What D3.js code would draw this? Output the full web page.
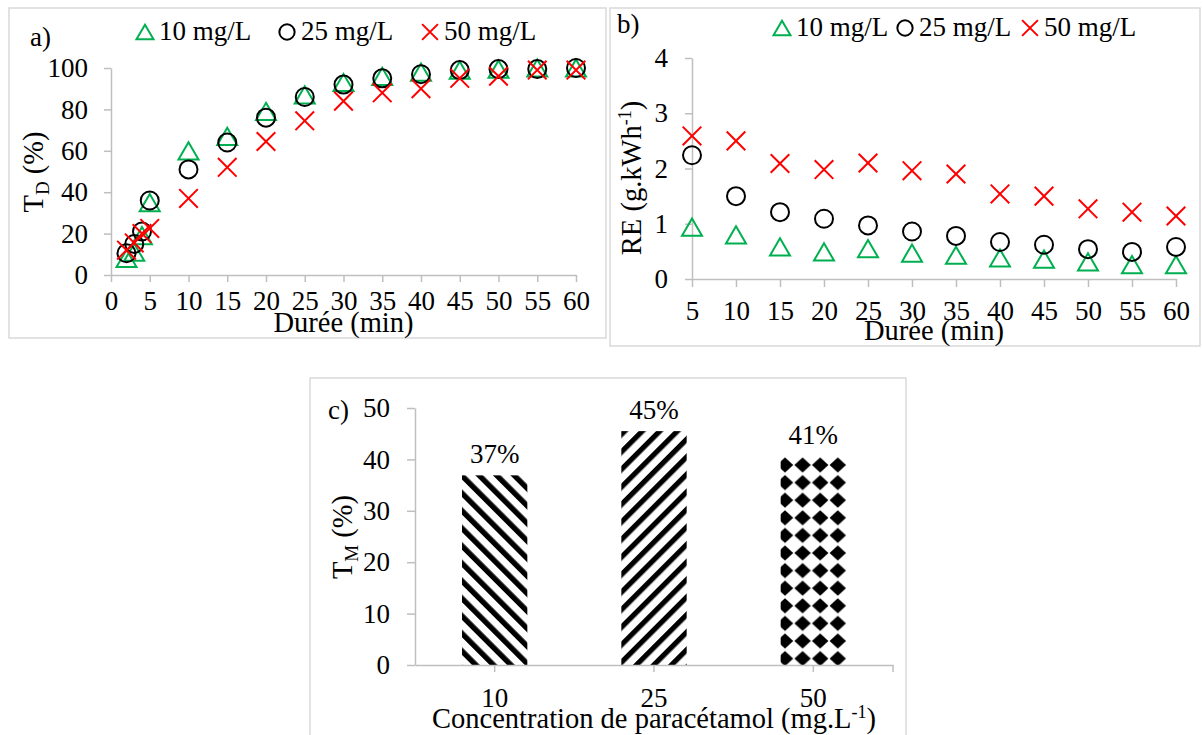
<!DOCTYPE html>
<html><head><meta charset="utf-8">
<script src="https://cdn.jsdelivr.net/npm/d3@7"></script>
<style>body{margin:0;background:#fff}svg{display:block}</style>
</head><body><svg id="chart" width="1203" height="735"></svg>
<script>
// ---------- DATA ----------
const seriesNames = ["10 mg/L", "25 mg/L", "50 mg/L"];
// Panel a: T_D (%) vs Durée (min)
const timeA = [2, 3, 4, 5, 10, 15, 20, 25, 30, 35, 40, 45, 50, 55, 60];
const tdA10 = [8, 11, 19, 35, 60, 67, 79, 87, 93, 96, 98, 99, 99.5, 100, 100];
const tdA25 = [10.5, 15, 21, 36, 51, 64, 76, 86, 92, 95, 97, 99, 99.5, 99.5, 100];
const tdA50 = [12, 15.5, 20, 22.5, 37, 52, 64.5, 74.5, 84, 88, 90, 95, 96, 99, 99];
const ticksAX = [0, 5, 10, 15, 20, 25, 30, 35, 40, 45, 50, 55, 60];
const ticksAY = [0, 20, 40, 60, 80, 100];
// Panel b: RE (g.kWh-1) vs Durée (min)
const timeB = [5, 10, 15, 20, 25, 30, 35, 40, 45, 50, 55, 60];
const reB10 = [0.94, 0.8, 0.58, 0.49, 0.55, 0.47, 0.43, 0.38, 0.36, 0.31, 0.26, 0.26];
const reB25 = [2.24, 1.5, 1.21, 1.09, 0.97, 0.86, 0.78, 0.67, 0.62, 0.54, 0.49, 0.58];
const reB50 = [2.59, 2.5, 2.09, 1.98, 2.1, 1.96, 1.9, 1.54, 1.5, 1.27, 1.21, 1.14];
const ticksBY = [0, 1, 2, 3, 4];
// Panel c: T_M (%) vs concentration
const concC = ["10", "25", "50"];
const tmC = [36.9, 45.5, 40.6];
const tmLabels = ["37%", "45%", "41%"];
const ticksCY = [0, 10, 20, 30, 40, 50];

// ---------- STYLE ----------
const FONT = '"Liberation Serif", "Times New Roman", serif';
const FS = 27, FT = 28.5;
const AX = "#BFBFBF";
const GREEN = "#00B050", RED = "#FF0000";
const fmtInt = d3.format("d");

const svg = d3.select("#chart");
svg.append("rect").attr("width", 1203).attr("height", 735).attr("fill", "#fff");

// patterns
const defs = svg.append("defs");
const p1 = defs.append("pattern").attr("id", "pat1").attr("patternUnits", "userSpaceOnUse")
  .attr("width", 12.4).attr("height", 12.4).attr("patternTransform", "rotate(-45)");
p1.append("rect").attr("width", 12.4).attr("height", 12.4).attr("fill", "#fff");
p1.append("rect").attr("width", 5.4).attr("height", 12.4).attr("fill", "#000");
const p2 = defs.append("pattern").attr("id", "pat2").attr("patternUnits", "userSpaceOnUse")
  .attr("width", 12.4).attr("height", 12.4).attr("patternTransform", "rotate(45)");
p2.append("rect").attr("width", 12.4).attr("height", 12.4).attr("fill", "#fff");
p2.append("rect").attr("width", 5.2).attr("height", 12.4).attr("fill", "#000");
const P3 = 17.6;
const p3 = defs.append("pattern").attr("id", "pat3").attr("patternUnits", "userSpaceOnUse")
  .attr("width", P3).attr("height", P3).attr("x", 785 - P3 / 2).attr("y", 465 - P3 / 2);
p3.append("rect").attr("width", P3).attr("height", P3).attr("fill", "#fff");
p3.append("path").attr("d", `M${P3/2},${P3/2-7.6}L${P3/2+8.2},${P3/2}L${P3/2},${P3/2+7.6}L${P3/2-8.2},${P3/2}Z`).attr("fill", "#000");

function styleAxis(g) {
  g.attr("font-size", FS);
  g.selectAll("path.domain").attr("stroke", AX).attr("stroke-width", 1.5);
  g.selectAll(".tick line").attr("stroke", AX).attr("stroke-width", 1.5);
  g.selectAll("text").style("font-family", FONT).style("font-size", FS + "px").attr("fill", "#000");
}
function txt(x, y, s, anchor, size) {
  return svg.append("text").attr("x", x).attr("y", y).style("font-family", FONT)
    .style("font-size", (size || FS) + "px").attr("fill", "#000").attr("text-anchor", anchor || "start").text(s);
}
function rotTitle(x, y) {
  return svg.append("text").attr("transform", `translate(${x},${y}) rotate(-90)`)
    .style("font-family", FONT).style("font-size", FT + "px").attr("fill", "#000").attr("text-anchor", "middle");
}
function frame(x0, y0, x1, y1) {
  svg.append("rect").attr("x", x0).attr("y", y0).attr("width", x1 - x0).attr("height", y1 - y0)
    .attr("fill", "none").attr("stroke", "#D9D9D9").attr("stroke-width", 1.5);
}
// markers
function triPath(s) { const w = 10 * s, h = 8.6 * s; return `M0,${-h}L${w},${h}L${-w},${h}Z`; }
function drawTri(g, x, y, s) {
  g.append("path").attr("d", triPath(s)).attr("transform", `translate(${x},${y})`)
    .attr("fill", "none").attr("stroke", GREEN).attr("stroke-width", 2);
}
function drawCirc(g, x, y, s) {
  g.append("circle").attr("cx", x).attr("cy", y).attr("r", 9 * s)
    .attr("fill", "none").attr("stroke", "#000").attr("stroke-width", 2);
}
function drawCross(g, x, y, s) {
  const d = 9.3 * s;
  g.append("path").attr("d", `M${-d},${-d}L${d},${d}M${-d},${d}L${d},${-d}`)
    .attr("transform", `translate(${x},${y})`).attr("fill", "none").attr("stroke", RED).attr("stroke-width", 2);
}
const drawers = [drawTri, drawCirc, drawCross];

// ---------- PANEL A ----------
frame(9, 8, 606, 338);
const xA = d3.scaleLinear().domain([0, 60]).range([111, 576]);
const yA = d3.scaleLinear().domain([0, 100]).range([275, 68]);
svg.append("g").attr("transform", "translate(111,0)")
  .call(d3.axisLeft(yA).tickValues(ticksAY).tickFormat(fmtInt).tickSize(7).tickSizeOuter(0).tickPadding(16)).call(styleAxis);
svg.append("g").attr("transform", "translate(0,275)")
  .call(d3.axisBottom(xA).tickValues(ticksAX).tickFormat(fmtInt).tickSize(7).tickSizeOuter(0).tickPadding(9)).call(styleAxis);
const gA = svg.append("g");
[tdA10, tdA25, tdA50].forEach((vals, si) => {
  vals.forEach((v, i) => drawers[si](gA, xA(timeA[i]), yA(v), 1));
});
txt(30, 46, "a)");
txt(343.5, 332, "Durée (min)", "middle", FT);
{
  const t = rotTitle(43, 172);
  t.append("tspan").text("T");
  t.append("tspan").style("font-size", "19px").attr("dy", 6).text("D");
  t.append("tspan").attr("dy", -6).text(" (%)");
}
// legend a
const legA = svg.append("g");
const legAX = [145, 287, 430];
seriesNames.forEach((n, i) => {
  drawers[i](legA, legAX[i], 32, 0.85);
  txt(legAX[i] + 14, 40, n);
});

// ---------- PANEL B ----------
frame(610, 8, 1200, 346);
const xB = d3.scalePoint().domain(timeB).range([692, 1176]);
const yB = d3.scaleLinear().domain([0, 4]).range([279, 58]);
svg.append("g").attr("transform", "translate(692,0)")
  .call(d3.axisLeft(yB).tickValues(ticksBY).tickFormat(fmtInt).tickSize(7).tickSizeOuter(0).tickPadding(17)).call(styleAxis);
svg.append("g").attr("transform", "translate(0,279)")
  .call(d3.axisBottom(xB).tickSize(8).tickSizeOuter(0).tickPadding(14)).call(styleAxis);
const gB = svg.append("g");
[reB10, reB25, reB50].forEach((vals, si) => {
  vals.forEach((v, i) => drawers[si](gB, xB(timeB[i]), yB(v), 1));
});
txt(617, 33, "b)");
txt(934, 340, "Durée (min)", "middle", FT);
{
  const t = rotTitle(641, 178);
  t.append("tspan").text("RE (g.kWh");
  t.append("tspan").style("font-size", "18px").attr("dy", -10).text("-1");
  t.append("tspan").attr("dy", 10).text(")");
}
const legB = svg.append("g");
const legBX = [782, 905, 1030];
seriesNames.forEach((n, i) => {
  drawers[i](legB, legBX[i], 28, 0.85);
  txt(legBX[i] + 14, 36, n);
});

// ---------- PANEL C ----------
frame(310, 378, 906, 736);
const xC = d3.scaleBand().domain(concC).range([415, 893]).paddingInner(0.59).paddingOuter(0.295);
const yC = d3.scaleLinear().domain([0, 50]).range([665, 408]);
const pats = ["url(#pat1)", "url(#pat2)", "url(#pat3)"];
svg.append("g").selectAll("rect").data(tmC).join("rect")
  .attr("x", (d, i) => xC(concC[i])).attr("width", xC.bandwidth())
  .attr("y", d => yC(d)).attr("height", d => yC(0) - yC(d))
  .attr("fill", (d, i) => pats[i]);
svg.append("g").attr("transform", "translate(415,0)")
  .call(d3.axisLeft(yC).tickValues(ticksCY).tickFormat(fmtInt).tickSize(8).tickSizeOuter(0).tickPadding(17)).call(styleAxis);
const axC = svg.append("g").attr("transform", "translate(0,665)")
  .call(d3.axisBottom(xC).tickSize(7).tickSizeOuter(0).tickPadding(16)).call(styleAxis);
axC.append("line").attr("x1", xC.range()[1]).attr("x2", xC.range()[1]).attr("y1", 0).attr("y2", 7)
  .attr("stroke", AX).attr("stroke-width", 1.5);
tmC.forEach((v, i) => txt(xC(concC[i]) + xC.bandwidth() / 2, yC(v) - 12, tmLabels[i], "middle"));
txt(328, 419, "c)");
{
  const t = svg.append("text").attr("x", 654).attr("y", 728).style("font-family", FONT)
    .style("font-size", FT + "px").attr("fill", "#000").attr("text-anchor", "middle");
  t.append("tspan").text("Concentration de paracétamol (mg.L");
  t.append("tspan").style("font-size", "18px").attr("dy", -10).text("-1");
  t.append("tspan").attr("dy", 10).text(")");
}
{
  const t = rotTitle(352, 537);
  t.append("tspan").text("T");
  t.append("tspan").style("font-size", "19px").attr("dy", 6).text("M");
  t.append("tspan").attr("dy", -6).text(" (%)");
}
</script></body></html>
